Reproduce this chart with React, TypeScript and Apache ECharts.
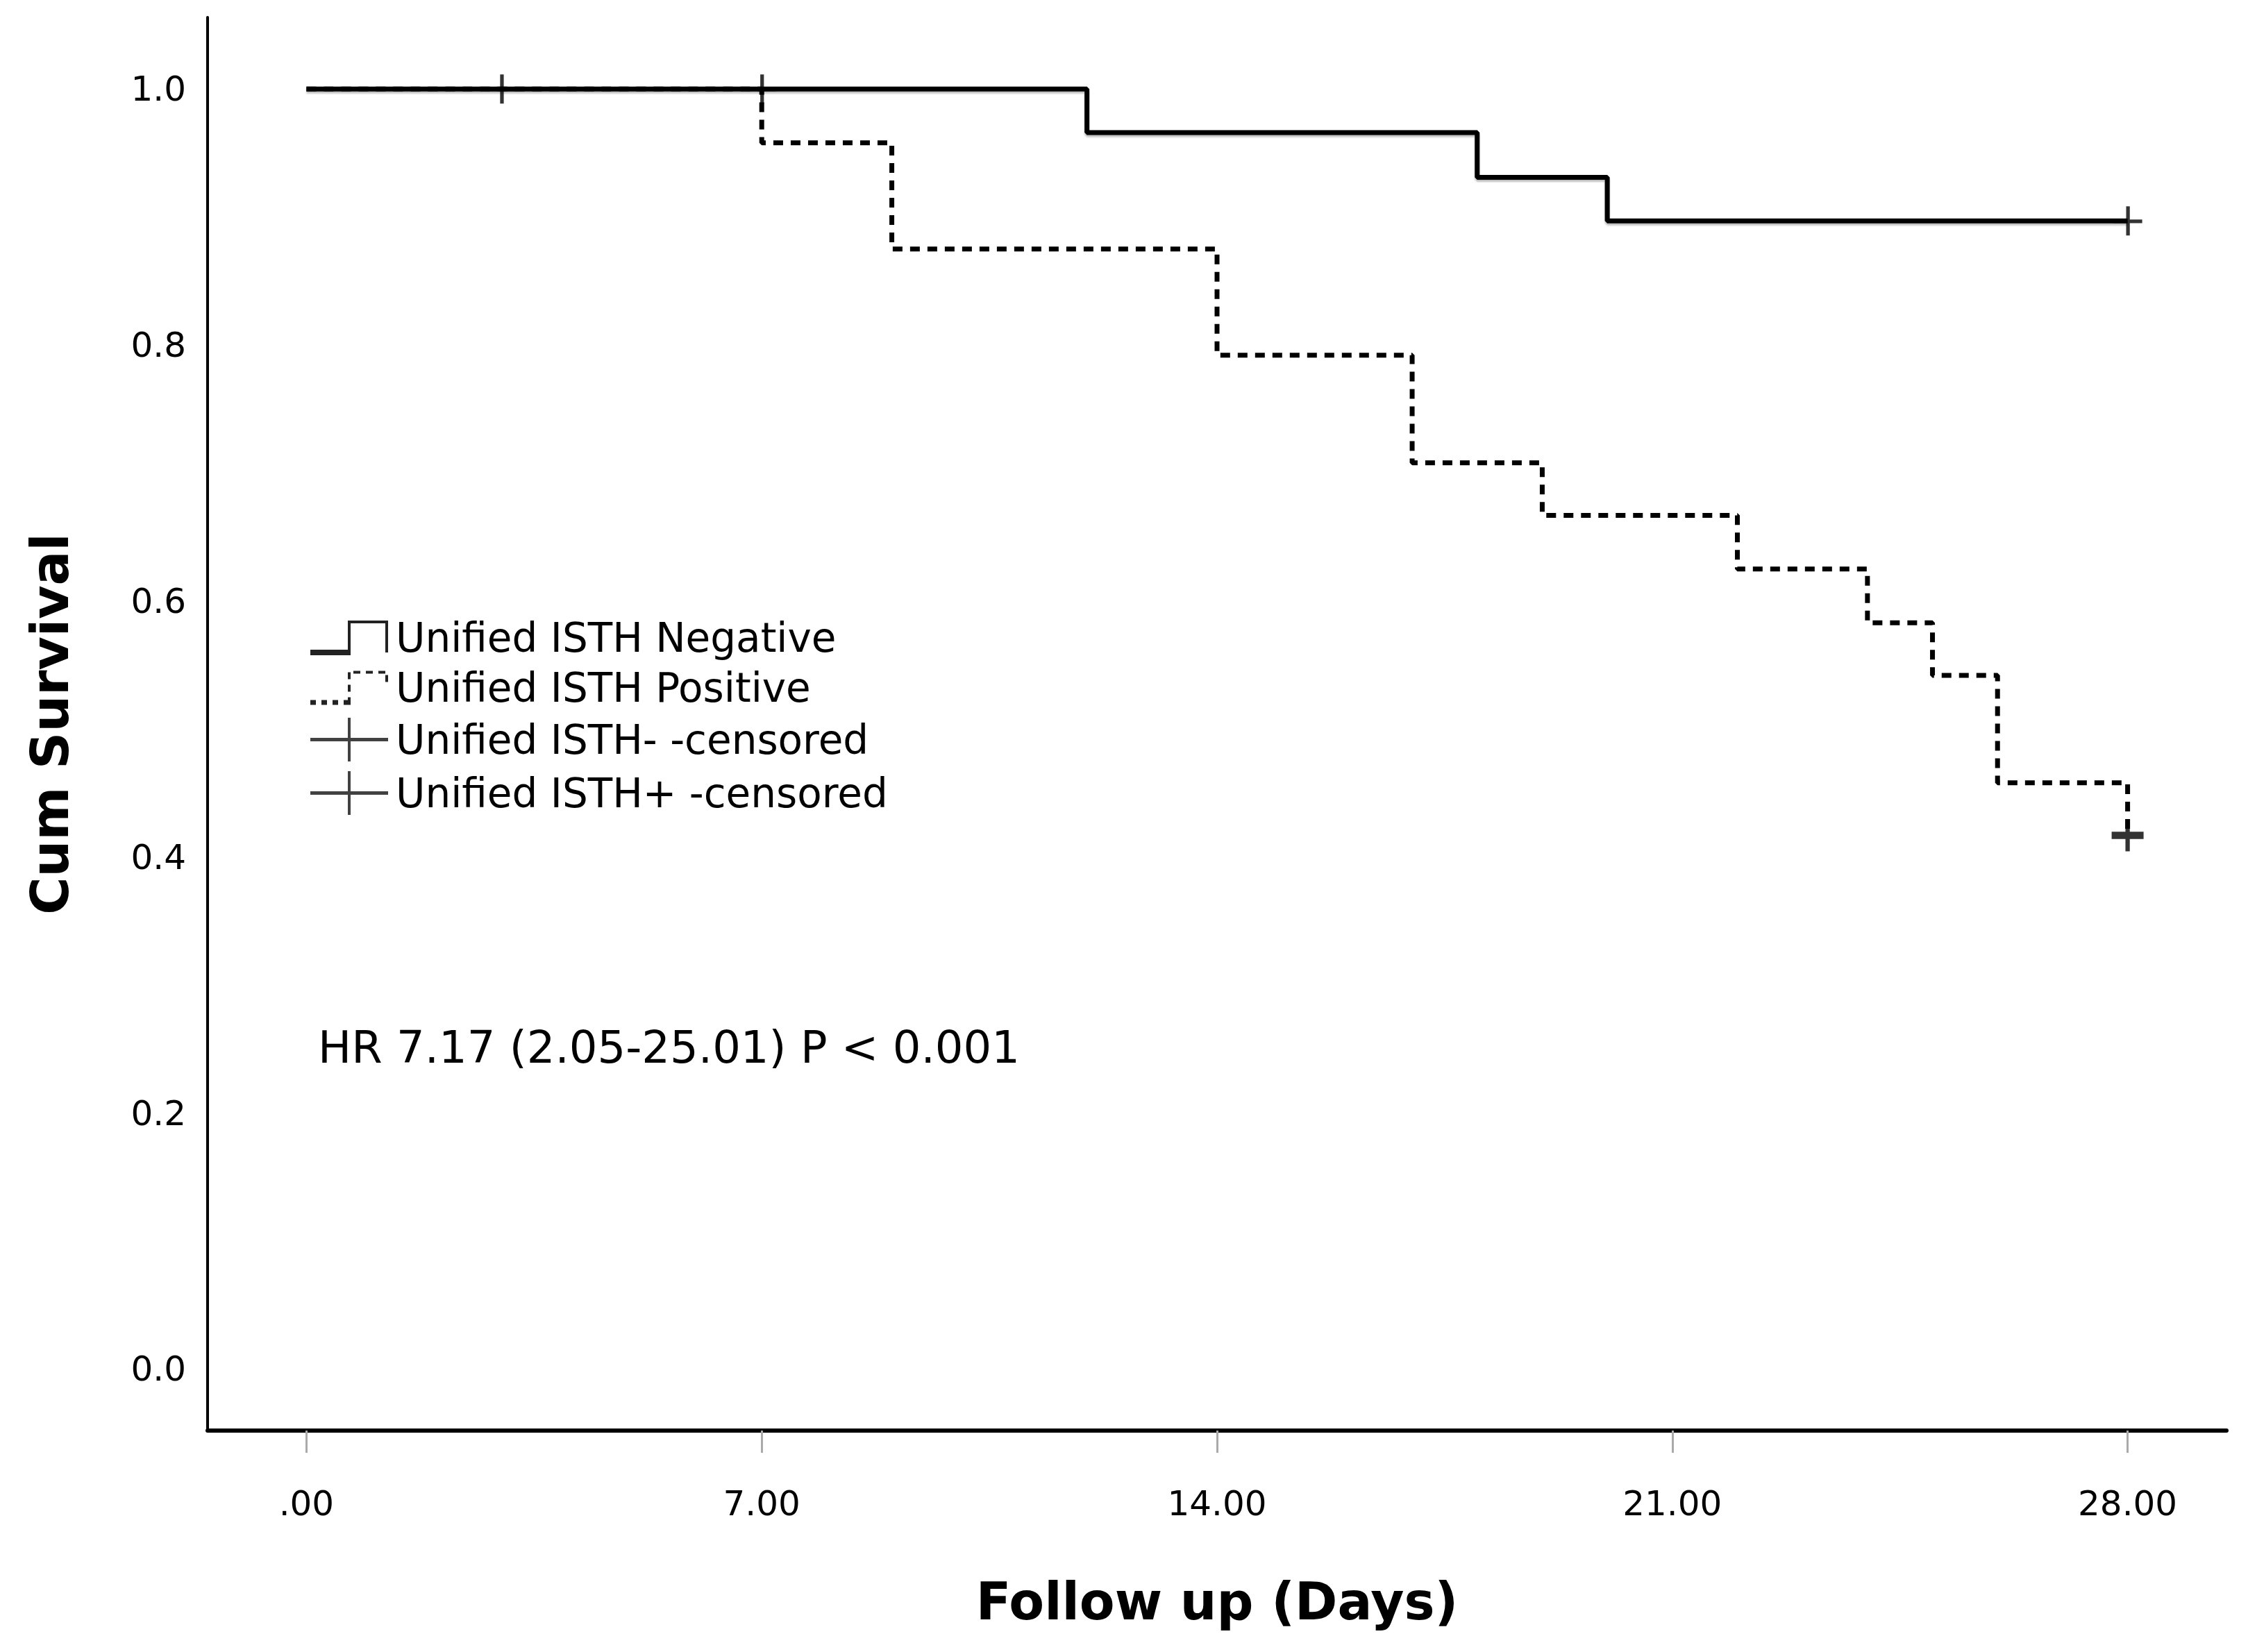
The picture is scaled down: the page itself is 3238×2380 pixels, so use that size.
import React, { useEffect, useRef } from "react";
import * as echarts from "echarts";

// ---- data ----
const xTicks = [0, 7, 14, 21, 28];
const yTicks = [0, 0.2, 0.4, 0.6, 0.8, 1.0];

const negDays = [0, 12, 18, 20, 28];
const negSurv = [1.0, 0.966, 0.931, 0.897, 0.897];

const posDays = [0, 7, 9, 14, 17, 19, 22, 24, 25, 26, 28];
const posSurv = [1.0, 0.958, 0.875, 0.792, 0.708, 0.667, 0.625, 0.583, 0.542, 0.458, 0.417];

const negCensDays = [3, 7, 28];
const negCensSurv = [1.0, 1.0, 0.897];
const posCensDays = [28];
const posCensSurv = [0.417];

const seriesNames = [
  "Unified ISTH Negative",
  "Unified ISTH Positive",
  "Unified ISTH- -censored",
  "Unified ISTH+ -censored",
];
const annotation = "HR 7.17 (2.05-25.01) P < 0.001";
const xTitle = "Follow up (Days)";
const yTitle = "Cum Survival";

const FONT = "DejaVu Sans";

const zip = (a: number[], b: number[]) => a.map((v, i) => [v, b[i]]);

const iconNeg = "path://M0,50h58v8h-58z M54,8h4v50h-4z M54,8h58v4h-58z M108,8h4v46h-4z";
const iconPos =
  "path://M0,50h8v7h-8z M16,50h8v7h-8z M32,50h8v7h-8z M48,50h6v7h-6z M54,10h4v10h-4z M54,28h4v10h-4z M54,46h4v11h-4z M62,8h10v4h-10z M80,8h10v4h-10z M98,8h10v4h-10z M108,14h4v10h-4z";
const iconCens = "path://M0,29h112v5h-112z M54,0h4v63h-4z";

const symNegCens = "path://M18,0h5v40h-5z M0,18h40v5h-40z";
const symPosCens = "path://M19,0h6v44h-6z M0,17h44v10h-44z";

export default function App() {
  const ref = useRef<HTMLDivElement>(null);
  useEffect(() => {
    document.body.style.margin = "0";
    const chart = echarts.init(ref.current!, null, { renderer: "svg" });
    chart.setOption({
      animation: false,
      backgroundColor: "#ffffff",
      grid: { left: 299, top: 25, right: 31, bottom: 319, containLabel: false },
      xAxis: {
        type: "value",
        min: -1.52,
        max: 29.52,
        name: xTitle,
        nameLocation: "middle",
        nameGap: 209,
        nameTextStyle: { fontFamily: FONT, fontWeight: "bold", fontSize: 74, color: "#000" },
        axisLine: { onZero: false, lineStyle: { color: "#000", width: 6 } },
        axisTick: {
          show: true,
          customValues: xTicks,
          length: 32,
          lineStyle: { color: "#aaaaaa", width: 3 },
        },
        axisLabel: {
          customValues: xTicks,
          margin: 80,
          fontFamily: FONT,
          fontSize: 50,
          color: "#000",
          formatter: (v: number) => (v === 0 ? ".00" : v.toFixed(2)),
        },
        splitLine: { show: false },
      },
      yAxis: {
        type: "value",
        min: -0.048,
        max: 1.056,
        name: yTitle,
        nameLocation: "middle",
        nameRotate: 90,
        nameGap: 190,
        nameTextStyle: { fontFamily: FONT, fontWeight: "bold", fontSize: 74, color: "#000" },
        axisLine: { show: true, onZero: false, lineStyle: { color: "#000", width: 4 } },
        axisTick: { show: false },
        axisLabel: {
          customValues: yTicks,
          margin: 31,
          fontFamily: FONT,
          fontSize: 50,
          color: "#000",
          formatter: (v: number) => v.toFixed(1),
        },
        splitLine: { show: false },
      },
      legend: {
        orient: "vertical",
        left: 442,
        top: 885,
        itemWidth: 112,
        itemHeight: 63,
        itemGap: 14,
        textStyle: { fontFamily: FONT, fontSize: 58, color: "#000", padding: [0, 0, 0, 6] },
        data: [
          { name: seriesNames[0], icon: iconNeg, itemStyle: { color: "#222" } },
          { name: seriesNames[1], icon: iconPos, itemStyle: { color: "#222" } },
          { name: seriesNames[2], icon: iconCens, itemStyle: { color: "#111" } },
          { name: seriesNames[3], icon: iconCens, itemStyle: { color: "#111" } },
        ],
        selectedMode: false,
      },
      graphic: [
        {
          type: "text",
          left: 458,
          top: 1514 - 37,
          style: { text: annotation, fontFamily: FONT, fontSize: 64, fill: "#000" },
        },
      ],
      series: [
        {
          name: seriesNames[0],
          type: "line",
          step: "end",
          data: zip(negDays, negSurv),
          showSymbol: false,
          symbol: "none",
          color: "#000",
          lineStyle: { color: "#000", width: 7, shadowColor: "rgba(0,0,0,0.25)", shadowOffsetY: 3, shadowBlur: 2 },
          z: 3,
        },
        {
          name: seriesNames[1],
          type: "line",
          step: "end",
          data: zip(posDays, posSurv),
          showSymbol: false,
          symbol: "none",
          color: "#000",
          lineStyle: { color: "#000", width: 7, type: [14, 11] },
          z: 4,
        },
        {
          name: seriesNames[2],
          type: "scatter",
          data: zip(negCensDays, negCensSurv),
          symbol: symNegCens,
          symbolSize: 42,
          itemStyle: { color: "#000" },
          z: 5,
        },
        {
          name: seriesNames[3],
          type: "scatter",
          data: zip(posCensDays, posCensSurv),
          symbol: symPosCens,
          symbolSize: 46,
          itemStyle: { color: "#000" },
          z: 5,
        },
      ],
    });
    return () => chart.dispose();
  }, []);
  return (
    <div
      ref={ref}
      style={{ position: "absolute", left: 0, top: 0, width: 3238, height: 2380, background: "#fff" }}
    />
  );
}
